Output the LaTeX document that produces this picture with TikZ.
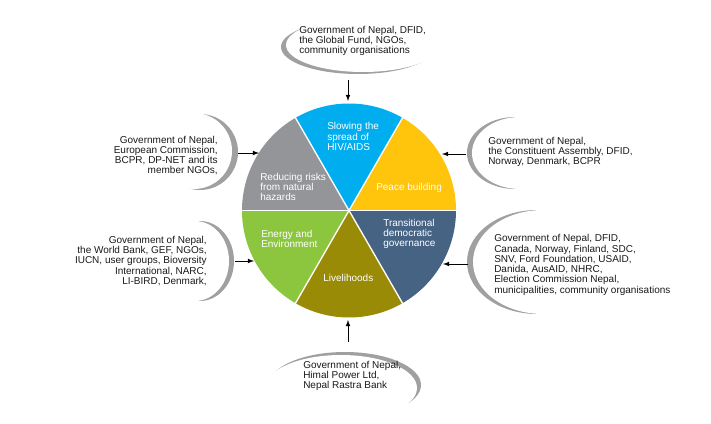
\documentclass[tikz,border=0pt]{standalone}
\usepackage{fontspec}
\setmainfont{Liberation Sans}
\definecolor{hivblue}{HTML}{00AEEF}
\definecolor{peaceyellow}{HTML}{FFC40C}
\definecolor{hazardgray}{HTML}{939598}
\definecolor{energygreen}{HTML}{8CC63F}
\definecolor{livelyolive}{HTML}{9A8B07}
\definecolor{governslate}{HTML}{466384}
\definecolor{moongray}{HTML}{A0A0A2}

\begin{document}
\begin{tikzpicture}[x=0.75pt,y=-0.75pt]
    \tikzstyle{donor}=[font=\fontsize{7.5}{7.7}\selectfont,inner sep=0pt,text=black!90]
    \tikzstyle{theme}=[donor,text=white,align=left,anchor=west]
    \tikzstyle{feed}=[-latex,black,line width=0.6pt]
    \useasboundingbox (0,0) rectangle (711,424);
    \coordinate (C) at (349,210.5);

        \foreach \cx/\cy/\rx/\ry/\dx/\dy in {358/47/77/27/5/-2, 345/385/76/33/-4/3, 200/152/38/38/-6/-1, 200/261/34/40/-5/0, 515/153/48/36/5/0, 537/262/70/52/6/0}
        {
            \fill[moongray] (\cx,\cy) ellipse [x radius=\rx, y radius=\ry];
            \fill[white] (\cx+\dx,\cy+\dy) ellipse [x radius=\rx, y radius=\ry];
        }

        \foreach \ang/\col in {0/governslate, 60/livelyolive, 120/energygreen, 180/hazardgray, 240/hivblue, 300/peaceyellow}
            \fill[\col] (C) -- ++(\ang:107) arc[start angle=\ang, delta angle=60, radius=107] -- cycle;

        \foreach \ang in {0,60,...,300}
            \draw[white,line width=1pt] (C) -- ++(\ang:107.5);

        \node[theme] (T-hiv) at (327,136.5) {Slowing the\\spread of\\HIV/AIDS};
        \node[theme] (T-peace) at (376,188.3) {Peace building};
        \node[theme] (T-hazard) at (260,187) {Reducing risks\\from natural\\hazards};
        \node[theme] (T-govern) at (383,234) {Transitional\\democratic\\governance};
        \node[theme] (T-energy) at (261,239) {Energy and\\Environment};
        \node[theme] (T-lively) at (323,278.3) {Livelihoods};

        \node[donor,align=left,anchor=west] (D-hiv) at (299,41) {Government of Nepal, DFID,\\the Global Fund, NGOs,\\community organisations};
        \node[donor,align=right,anchor=east] (D-hazard) at (218,155.5) {Government of Nepal,\\European Commission,\\BCPR, DP-NET and its\\member NGOs,};
        \node[donor,align=right,anchor=east] (D-energy) at (207,261) {Government of Nepal,\\the World Bank, GEF, NGOs,\\IUCN, user groups, Bioversity\\International, NARC,\\LI-BIRD, Denmark,};
        \node[donor,align=left,anchor=west] (D-peace) at (488,152) {Government of Nepal,\\the Constituent Assembly, DFID,\\Norway, Denmark, BCPR};
        \node[donor,align=left,anchor=west] (D-govern) at (494,265) {Government of Nepal, DFID,\\Canada, Norway, Finland, SDC,\\SNV, Ford Foundation, USAID,\\Danida, AusAID, NHRC,\\Election Commission Nepal,\\municipalities, community organisations};
        \node[donor,align=left,anchor=west] (D-lively) at (303,376) {Government of Nepal,\\Himal Power Ltd,\\Nepal Rastra Bank};

        \foreach \name/\fx/\fy/\tx/\ty in {hiv/348/80/348/101, lively/348/342/348/320, hazard/238/153/259/153, energy/235/261/254/261, peace/466/154/442/154, govern/468/264/443/264}
        {
            \coordinate (A-\name) at (\fx,\fy);
            \coordinate (B-\name) at (\tx,\ty);
            \draw[feed] (A-\name) -- (B-\name);
        }
\end{tikzpicture}
\end{document}
